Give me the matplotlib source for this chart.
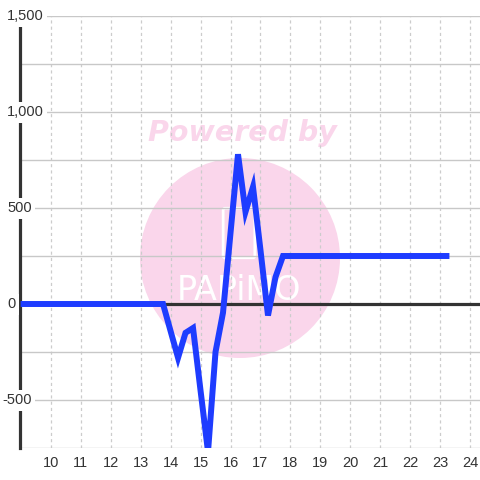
import matplotlib
matplotlib.use("Agg")
import matplotlib.pyplot as plt
from matplotlib.patches import Ellipse, FancyBboxPatch

# ---- data ----
x_values = [9.0, 13.75, 14.0, 14.25, 14.5, 14.75, 15.0, 15.25, 15.5, 15.75, 16.0,
            16.25, 16.5, 16.75, 17.0, 17.25, 17.5, 17.75, 18.0, 19.0, 20.0,
            21.0, 22.0, 23.0, 23.3]
y_values = [0, 0, -140, -280, -150, -125, -450, -770, -250, -45, 370,
            780, 480, 610, 280, -60, 140, 250, 250, 250, 250,
            250, 250, 250, 250]
x_ticks = list(range(10, 25))
y_label_values = [1500, 1000, 500, 0, -500]
y_grid_values = [-750, -500, -250, 0, 250, 500, 750, 1000, 1250, 1500]

W, H = 480, 480
fig = plt.figure(figsize=(4.8, 4.8), dpi=100)
fig.patch.set_facecolor("white")
ax = fig.add_axes([20 / W, 32 / H, 460 / W, 432 / H])
ax.set_xlim(8.98, 24.32)
ax.set_ylim(-750, 1500)
ax.set_facecolor("white")

# watermark
pink = "#fad6eb"
ax.add_patch(Ellipse(((240 - 20) / 460, (448 - 258) / 432), 200 / 460, 200 / 432,
                     transform=ax.transAxes, facecolor=pink, edgecolor="none", zorder=0.1))
ax.text((242 - 20) / 460, (448 - 133) / 432, "Powered by", transform=ax.transAxes,
        ha="center", va="center", fontsize=20.5, fontweight="bold", fontstyle="italic",
        color=pink, family="DejaVu Sans", zorder=0.2)
ax.text((239 - 20) / 460, (448 - 291) / 432, "PAPiMO", transform=ax.transAxes,
        ha="center", va="center", fontsize=24, color="white",
        family=["Liberation Sans Narrow", "DejaVu Sans"], zorder=0.2)
ax.add_patch(FancyBboxPatch(((225 - 20) / 460, (448 - 256) / 432), 28 / 460, 46 / 432,
                            boxstyle="round,pad=0.004", transform=ax.transAxes,
                            facecolor="none", edgecolor="white", lw=2, zorder=0.2))

# grid
ax.set_axisbelow(True)
ax.set_yticks(y_grid_values)
ax.set_xticks(x_ticks)
ax.grid(axis="y", color="#c8c8c8", lw=1.0)
ax.grid(axis="x", color="#cccccc", lw=0.9, linestyle=(0, (2.5, 2.5)))
ax.tick_params(axis="y", length=0, labelleft=False)
ax.tick_params(axis="x", length=0, pad=6, labelsize=10.5, labelcolor="#333333")
for lab in ax.get_xticklabels():
    lab.set_family(["Liberation Sans", "DejaVu Sans"])

for s in ["top", "right", "bottom"]:
    ax.spines[s].set_visible(False)
ax.spines["left"].set_color("#333333")
ax.spines["left"].set_linewidth(2.3)

# zero line
ax.axhline(0, color="#333333", lw=2.3, zorder=2)

# data line
ax.plot(x_values, y_values, color="#1e3cff", lw=4.3, zorder=3,
        solid_joinstyle="miter", solid_capstyle="butt")

# y labels with white background
ytrans = ax.get_yaxis_transform()
for v in y_label_values:
    txt = f"{v:,}"
    px = 7 - (5 if txt.startswith("-") else 0)
    ax.text((px - 20) / 460, v, txt, transform=ytrans, ha="left", va="center",
            fontsize=10.5, color="#333333", family=["Liberation Sans", "DejaVu Sans"],
            zorder=10, clip_on=False,
            bbox=dict(facecolor="white", edgecolor="none", pad=2.5))

fig.savefig("out.png", dpi=100, facecolor="white")
